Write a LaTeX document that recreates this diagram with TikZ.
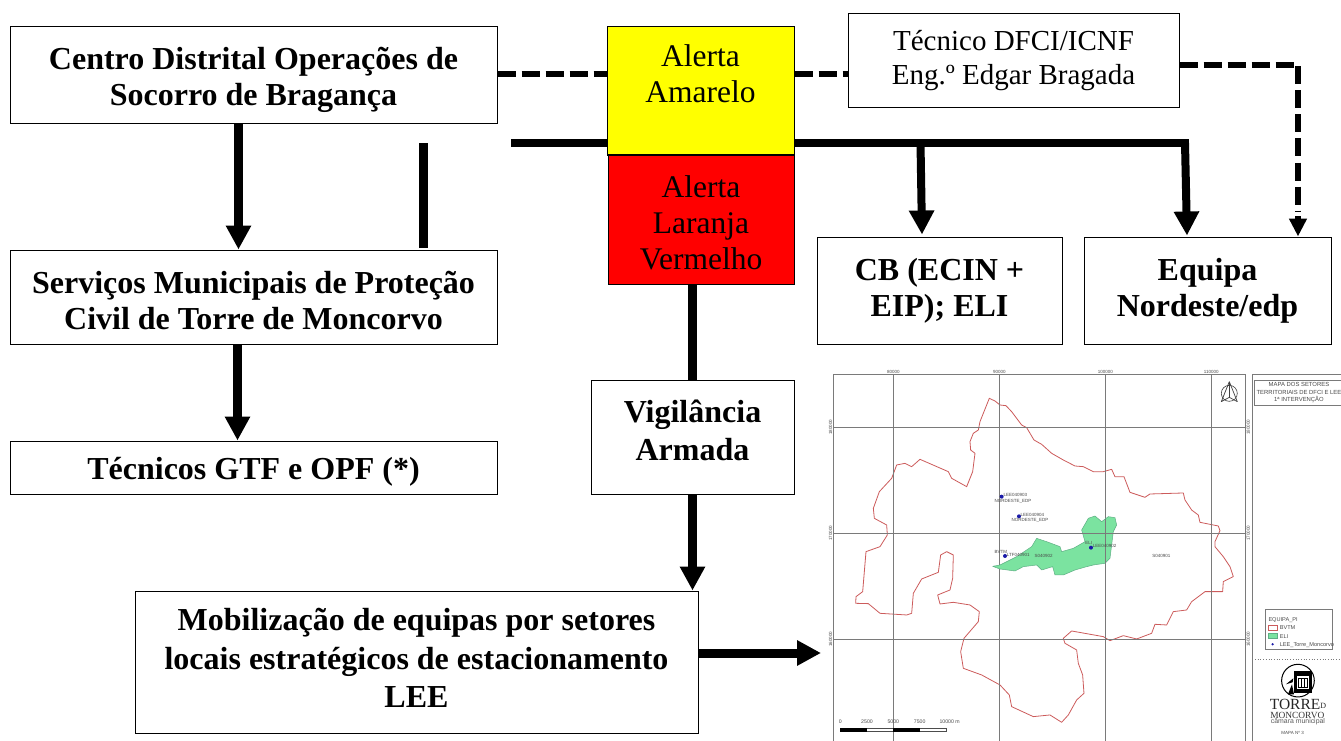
\documentclass[tikz,border=0pt]{standalone}
\usepackage{fontspec}
\setmainfont{Liberation Serif}
\newfontfamily\mapfont{Liberation Sans}
\usetikzlibrary{arrows.meta,backgrounds}
\definecolor{alertyellow}{HTML}{FFFF00}
\definecolor{alertred}{HTML}{FF0000}
\definecolor{mapgrid}{HTML}{7A7A7A}
\definecolor{mapred}{HTML}{CC5B5B}
\definecolor{mapgreen}{HTML}{7BE3A0}
\definecolor{mapedge}{HTML}{5FAF85}
\definecolor{maptext}{HTML}{4A4A4A}
\definecolor{mapblue}{HTML}{1A1AA8}
\newcommand\txtdown[1]{\rule{0pt}{#1pt}}
\newcommand\txtup[1]{\rule[-#1pt]{0pt}{#1pt}}
\tikzset{
  box/.style={draw=black,line width=1pt,fill=white,inner sep=0pt,align=center,font=\fontsize{32}{36}\selectfont\bfseries},
  plainbox/.style={box,font=\fontsize{29}{34}\selectfont\mdseries},
  alertbox/.style={box,font=\fontsize{31.5}{36}\selectfont\mdseries},
  bar/.style={line width=9pt,black},
  flow/.style={line width=9pt,black,-{Triangle[length=24pt,width=24pt]}},
  dashline/.style={line width=6pt,black,dash pattern=on 18pt off 6pt},
  dashflow/.style={line width=6pt,black,-{Triangle[length=18pt,width=17pt]}},
  gridline/.style={mapgrid,line width=.7pt},
  maplabel/.style={font=\mapfont\fontsize{4.5}{5.5}\selectfont,text=maptext,inner sep=0pt},
  maplegend/.style={maplabel,font=\mapfont\fontsize{5.6}{6.5}\selectfont,anchor=west},
  mapscale/.style={maplabel,font=\mapfont\fontsize{5.2}{6}\selectfont},
  maptitle/.style={font=\mapfont\fontsize{5.9}{7.6}\selectfont,text=maptext,inner sep=0pt,align=center},
  lee/.style={circle,fill=mapblue,inner sep=0pt,minimum size=4pt}
}
\begin{document}
\begin{tikzpicture}[x=1pt,y=-1pt]
\useasboundingbox (0,0) rectangle (1341,741);

% ---- boxes
\node[box,minimum width=487pt,minimum height=97pt] (cdos) at (253.5,75.5) {\txtdown{32}Centro Distrital Operações de\\Socorro de Bragança};
\node[alertbox,fill=alertyellow,minimum width=187pt,minimum height=128pt] (amarelo) at (700.5,91) {Alerta\\Amarelo\txtup{34}};
\node[alertbox,fill=alertred,minimum width=186pt,minimum height=129pt] (laranja) at (701,219.5) {\txtdown{29}Alerta\\Laranja\\Vermelho};
\node[plainbox,minimum width=331pt,minimum height=94pt] (tecnico) at (1013.5,61) {Técnico DFCI/ICNF\\Eng.º Edgar Bragada};
\node[box,minimum width=487pt,minimum height=94pt] (smpc) at (253.5,297) {\txtdown{29}Serviços Municipais de Proteção\\Civil de Torre de Moncorvo};
\node[box,minimum width=487pt,minimum height=53pt] (gtf) at (253.5,467.5) {\txtdown{31}Técnicos GTF e OPF (*)};
\node[box,minimum width=245pt,minimum height=107pt] (cb) at (939.5,290.5) {CB (ECIN +\\EIP); ELI};
\node[box,minimum width=247pt,minimum height=107pt] (equipa) at (1207.5,290.5) {Equipa\\Nordeste/edp};
\node[box,font=\fontsize{32}{38}\selectfont\bfseries,minimum width=203pt,minimum height=114pt] (vigil) at (692.5,437) {Vigilância\\Armada\txtup{14}};
\node[box,font=\fontsize{32}{38.5}\selectfont\bfseries,minimum width=563pt,minimum height=142pt] (mobil) at (416.5,662) {Mobilização de equipas por setores\\locais estratégicos de estacionamento\\LEE\txtup{8}};

% ---- free ends
\coordinate (busL) at (511,143);
\coordinate (busR) at (1189,143);
\coordinate (busCB) at (920.5,143);
\coordinate (busEq) at (1185,143);
\coordinate (riser) at (423.5,143);
\coordinate (mapin) at (821,653);
\coordinate (dashcorner) at (1298,65);
\coordinate (dashturn) at (1298,212);

% ---- connectors
\begin{pgfonlayer}{background}
\draw[bar,line width=8pt] (busL) -- (busR);
\draw[dashline] ([yshift=1.5pt]cdos.east) -- ([yshift=17pt]amarelo.west);
\draw[dashline] ([yshift=17pt]amarelo.east) -- ([yshift=-13pt]tecnico.west);
\end{pgfonlayer}
\draw[flow] ([xshift=-15pt]cdos.south) -- ([xshift=-15pt]smpc.north);
\draw[bar] ([xshift=170pt,yshift=2pt]smpc.north) -- (riser);
\draw[flow] ([xshift=-16pt]smpc.south) -- ([xshift=-16pt]gtf.north);
\draw[flow,line width=8pt] (busCB) -- ([xshift=-17.5pt,yshift=2pt]cb.north);
\draw[flow,line width=8pt] (busEq) -- ([xshift=-20.5pt,yshift=1pt]equipa.north);
\draw[bar] ([xshift=-9pt]laranja.south) -- ([xshift=-0.5pt]vigil.north);
\draw[flow] (vigil.south) -- ([xshift=276pt]mobil.north);
\draw[flow] ([yshift=9pt]mobil.east) -- (mapin);
\draw[dashline] ([yshift=-4pt]tecnico.east) -- (dashcorner) -- (dashturn);
\draw[dashflow] ([yshift=-4pt]dashturn) -- ([xshift=90.5pt]equipa.north);

% ---- map (drawn in the coordinates of a 3x crop)
\begin{scope}[shift={(830,365)},x=0.3333pt,y=-0.3333pt]
\draw[gridline] (10,1128) -- (10,28) -- (1247,28) -- (1247,1128);
\foreach \gx/\gt in {190/80000,508/90000,826/100000,1144/110000}
  \node[maplabel] at (\gx,21) {\gt};
\foreach \gy/\gt in {187/180000,505/170000,823/160000}{
  \node[maplabel,rotate=90] at (2,\gy) {\gt};
  \node[maplabel,rotate=90] at (1255,\gy) {\gt};
}
% municipality outline
\draw[mapred,line width=.8pt,line join=round,fill=white]
 (478,100)--(495,108)--(510,120)--(528,122)--(545,140)--(575,180)--(590,188)--(612,225)--(635,238)--(665,265)--(700,285)--(735,303)--(760,305)--(790,320)--(820,320)--(845,313)--(855,335)--(882,335)--(900,382)--(945,397)--(960,387)--(1060,384)--(1065,405)--(1085,435)--(1105,450)--(1110,472)--(1165,483)--(1170,497)--(1155,530)--(1155,545)--(1180,575)--(1200,605)--(1210,635)--(1180,650)--(1178,680)--(1125,680)--(1085,710)--(1070,735)--(1030,740)--(1010,780)--(975,778)--(965,805)--(920,822)--(880,812)--(840,827)--(820,815)--(725,798)--(700,820)--(705,835)--(740,855)--(745,895)--(758,930)--(762,985)--(740,1005)--(715,1050)--(695,1072)--(660,1050)--(610,1055)--(545,1025)--(538,990)--(510,960)--(455,930)--(400,910)--(392,860)--(402,820)--(445,770)--(448,740)--(420,720)--(370,712)--(330,717)--(323,690)--(360,675)--(368,640)--(370,570)--(350,560)--(332,570)--(325,622)--(275,642)--(250,685)--(245,745)--(230,750)--(150,745)--(115,716)--(77,715)--(78,695)--(98,680)--(108,560)--(150,545)--(172,510)--(170,480)--(133,460)--(130,430)--(148,380)--(185,340)--(200,300)--(225,295)--(245,305)--(270,283)--(355,320)--(365,340)--(410,365)--(428,320)--(435,265)--(422,255)--(420,230)--(430,205)--(445,195)--(450,170)--cycle;
\foreach \gx in {190,508,826,1144} \draw[gridline] (\gx,28) -- (\gx,1128);
\foreach \gy in {187,505,823} \draw[gridline] (10,\gy) -- (1247,\gy);
% ELI sector
\draw[mapedge,fill=mapgreen,line width=.5pt,line join=round]
 (488,604)--(510,600)--(560,575)--(605,545)--(620,520)--(650,530)--(690,545)--(695,560)--(730,550)--(765,530)--(755,495)--(775,460)--(795,453)--(815,470)--(835,455)--(855,458)--(860,480)--(850,500)--(840,580)--(825,595)--(790,600)--(770,605)--(735,615)--(700,630)--(675,630)--(668,605)--(635,615)--(620,600)--(580,605)--(555,618)--(510,612)--cycle;
\draw[gridline] (826,463) -- (826,594);
\draw[gridline] (757,505) -- (855,505);
% LEE points
\node[lee] at (515,395) {};
\node[maplabel,anchor=west] at (520,391) {LEE040903};
\node[maplabel] at (549,408) {NORDESTE\_EDP};
\node[lee] at (567,454) {};
\node[maplabel,anchor=west] at (571,451) {LEE040904};
\node[maplabel] at (600,467) {NORDESTE\_EDP};
\node[lee] at (525,573) {};
\node[maplabel] at (513,561) {BVTM};
\node[maplabel,anchor=west] at (530,569) {LTF040901};
\node[lee] at (783,548) {};
\node[maplabel] at (776,535) {ELI};
\node[maplabel,anchor=west] at (788,544) {LEE040902};
\node[maplabel] at (641,573) {S040902};
\node[maplabel] at (994,573) {S040901};
% north arrow
\draw[black!75,line width=.7pt,line join=round] (1198,50) -- (1174,110) -- (1198,97) -- (1222,110) -- cycle;
\draw[black!75,line width=.6pt] (1198,85) circle[radius=24];
\draw[black!75,line width=.5pt] (1198,50) -- (1198,97);
% scale bar
\foreach \sx/\st in {31/0,111/2500,190/5000,269/7500}
  \node[mapscale] at (\sx,1071) {\st};
\node[mapscale] at (359,1071) {10000 m};
\draw[black!70,line width=.4pt,fill=white] (31,1089) rectangle (350,1100);
\fill[black] (31,1089) rectangle (111,1100);
\fill[black] (190,1089) rectangle (270,1100);
% side panel
\draw[gridline] (1267,1128) -- (1267,28) -- (1533,28);
\draw[gridline,dotted,line width=.8pt] (1267,882) -- (1533,882);
\draw[gridline,fill=white] (1272,46) rectangle (1533,122);
\node[maptitle] at (1407,83) {MAPA DOS SETORES\\TERRITORIAIS DE DFCI E LEE\\1ª INTERVENÇÃO};
\draw[gridline,fill=white] (1307,733) rectangle (1507,853);
\node[maplegend] at (1315,766) {EQUIPA\_PI};
\draw[mapred,line width=.7pt,fill=white] (1315,781) rectangle (1342,796);
\node[maplegend] at (1349,789) {BVTM};
\draw[mapedge,fill=mapgreen,line width=.5pt] (1315,806) rectangle (1342,821);
\node[maplegend] at (1349,814) {ELI};
\node[lee,minimum size=2.5pt] at (1328,838) {};
\node[maplegend] at (1349,839) {LEE\_Torre\_Moncorvo};
% municipal logo
\draw[black,line width=1pt] (1404,947) circle[radius=49];
\fill[black] (1392,918) rectangle (1445,985);
\fill[white] (1400,932) rectangle (1437,972);
\fill[black] (1403,938) rectangle (1434,970);
\fill[white] (1406,942) rectangle (1413,967);
\fill[white] (1416,942) rectangle (1423,967);
\fill[white] (1426,942) rectangle (1432,967);
\fill[black] (1374,988) -- (1386,958) -- (1392,988) -- cycle;
\fill[black] (1368,958) -- (1390,940) -- (1388,952) -- cycle;
\node[font=\fontsize{15.5}{15.5}\selectfont,text=black!85,inner sep=0pt] at (1404,1019) {TORRE\raisebox{1pt}{\fontsize{8}{8}\selectfont D}};
\node[font=\fontsize{9.4}{9.4}\selectfont,text=black!80,inner sep=0pt] at (1402,1050) {MONCORVO};
\node[font=\mapfont\fontsize{6.9}{7}\selectfont,text=black!65,inner sep=0pt] at (1404,1070) {câmara municipal};
\node[maplabel] at (1388,1104) {MAPA Nº 3};
\end{scope}
\end{tikzpicture}
\end{document}
